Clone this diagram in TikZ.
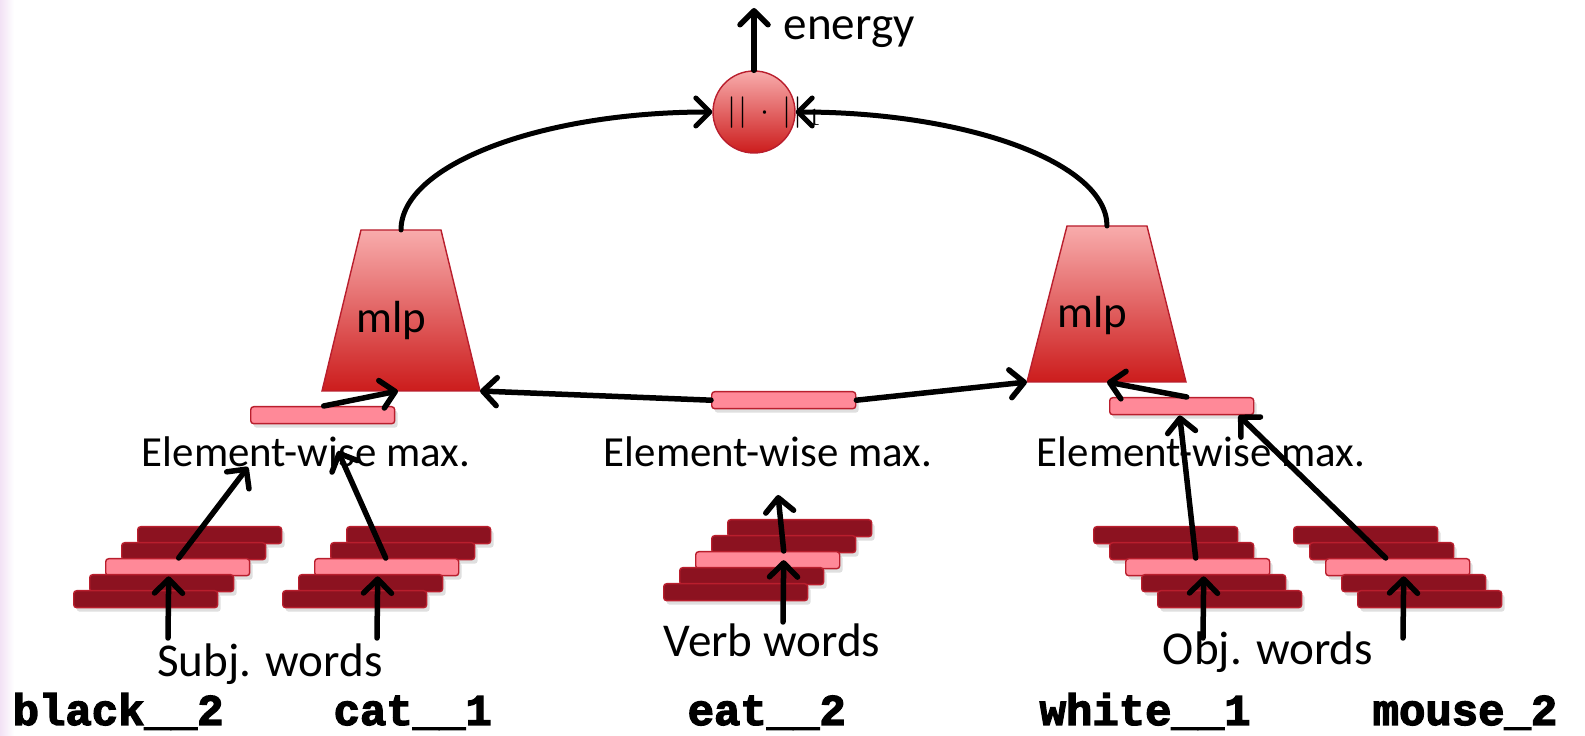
\documentclass[tikz,border=0pt]{standalone}
\usepackage{fontspec}
\setmainfont{Carlito}
\newfontfamily\codefont{Liberation Mono}[BoldFeatures={FakeBold=3}]
\usepackage{tikz}
\usetikzlibrary{arrows.meta, shadows}
\definecolor{darkbar}{RGB}{140,18,32}
\definecolor{barline}{RGB}{185,30,45}
\definecolor{pinkbar}{RGB}{255,137,152}
\definecolor{mlptop}{RGB}{248,172,172}
\definecolor{mlpbot}{RGB}{204,28,28}
\definecolor{stripc}{RGB}{242,226,245}
\tikzset{
  bar/.style={rectangle, anchor=north west, minimum width=14.4mm, minimum height=1.7mm,
    inner sep=0pt, rounded corners=0.3mm, draw=barline, line width=0.4pt,
    drop shadow={opacity=0.25, shadow xshift=0.3mm, shadow yshift=-0.4mm}},
  arr/.style={line width=0.55mm, line cap=round,
    -{Straight Barb[length=1.4mm, width=2.8mm, round]}},
  lbl/.style={font=\fontsize{13.4}{16}\selectfont, inner sep=0pt, anchor=base},
  maxlbl/.style={font=\fontsize{12.2}{15}\selectfont, inner sep=0pt, anchor=base},
  word/.style={font=\codefont\bfseries\fontsize{12.5}{15}\selectfont, inner sep=0pt, anchor=base west},
}
% one stack of five word vectors: name, x, y of top bar, shift per bar
\newcommand{\wordstack}[4]{%
  \foreach \i/\f in {0/darkbar,1/darkbar,2/pinkbar,3/darkbar,4/darkbar}
    \node[bar, fill=\f] (#1\i) at ({#2+#4*\i},{#3+16*\i}) {};
}

\begin{document}
\begin{tikzpicture}[x=0.1mm, y=-0.1mm]
  \useasboundingbox (0,0) rectangle (1585,736);
  \shade[left color=stripc, right color=white] (0,0) rectangle (14,736);

  % mlp blocks
  \shade[draw=barline, top color=mlptop, bottom color=mlpbot]
    (361,230) -- (441,230) -- (480,391) -- (322,391) -- cycle;
  \shade[draw=barline, top color=mlptop, bottom color=mlpbot]
    (1067,226) -- (1147,226) -- (1186,382) -- (1027,382) -- cycle;
  \coordinate (mlpLtop) at (401,230);
  \coordinate (mlpLin) at (398,391);
  \coordinate (mlpLcorner) at (480,391);
  \coordinate (mlpRtop) at (1107,226);
  \coordinate (mlpRin) at (1107,382);
  \coordinate (mlpRcorner) at (1027,382);
  \node[font=\fontsize{12.8}{15}\selectfont, inner sep=0pt, anchor=base west] (mlpL) at (356,333) {mlp};
  \node[font=\fontsize{12.8}{15}\selectfont, inner sep=0pt, anchor=base west] (mlpR) at (1057,328) {mlp};

  % norm
  \node[circle, minimum size=8.2mm, inner sep=0pt, draw=barline,
    top color=mlptop, bottom color=mlpbot] (ball) at (754,112) {};
  \node[font=\fontsize{9.5}{10}\selectfont, inner sep=0pt, anchor=west] (norm) at (727,113)
    {$|\kern0.6pt|\,\cdot\,|\kern0.6pt|_{\,1}$};
  \coordinate (top) at (754,8);
  \node[lbl, anchor=base west] (energy) at (783,40) {energy};

  % word vectors
  \wordstack{black}{137}{526}{-16}
  \wordstack{cat}{346}{526}{-16}
  \wordstack{eat}{727}{519}{-16}
  \wordstack{white}{1093}{526}{16}
  \wordstack{mouse}{1293}{526}{16}

  % pooled vectors
  \node[bar, fill=pinkbar] (maxL) at (250,406) {};
  \node[bar, fill=pinkbar] (maxM) at (711,391) {};
  \node[bar, fill=pinkbar] (maxR) at (1109,397) {};

  % labels
  \node[maxlbl] (elemL) at (306,467) {Element-wise max.};
  \node[maxlbl] (elemM) at (768,467) {Element-wise max.};
  \node[maxlbl] (elemR) at (1201,467) {Element-wise max.};
  \node[lbl] (subj) at (270,677) {Subj. words};
  \node[lbl] (verb) at (772,657) {Verb words};
  \node[lbl] (obj) at (1268,665) {Obj. words};
  \node[word] (w1) at (12,725) {black\_\_2};
  \node[word] (w2) at (333,725) {cat\_\_1};
  \node[word] (w3) at (687,725) {eat\_\_2};
  \node[word] (w4) at (1039,725) {white\_\_1};
  \node[word] (w5) at (1372,725) {mouse\_2};

  % inputs
  \coordinate (inBlack) at (168,638);
  \coordinate (inCat) at (377,638);
  \coordinate (inEat) at (783,622);
  \coordinate (inWhite) at (1203,638);
  \coordinate (inMouse) at (1403,638);
  \coordinate (upBlack) at (248,467);
  \coordinate (upCat) at (338,451);
  \coordinate (upEat) at (778,495);

  \draw[arr] (inBlack) -- ([xshift=-0.9mm]black2.south);
  \draw[arr] (inCat) -- ([xshift=-0.9mm]cat2.south);
  \draw[arr] (inEat) -- ([xshift=1.6mm]eat2.center);
  \draw[arr] (inWhite) -- ([xshift=0.6mm]white2.south);
  \draw[arr] (inMouse) -- ([xshift=0.6mm]mouse2.south);

  \draw[arr] ([xshift=0.1mm]black2.north) -- (upBlack);
  \draw[arr] ([xshift=-0.1mm]cat2.north) -- (upCat);
  \draw[arr] ([xshift=1.6mm]eat2.north) -- (upEat);
  \draw[arr] ([xshift=-0.2mm]white2.north) -- ([xshift=-0.2mm]maxR.south);
  \draw[arr] ([xshift=-1.2mm]mouse2.north) -- ([xshift=5.7mm]maxR.south);

  \draw[arr] ([xshift=0.1mm]maxL.north) -- (mlpLin);
  \draw[arr] ([xshift=0.5mm]maxR.north) -- (mlpRin);
  \draw[arr] (maxM.west) -- (mlpLcorner);
  \draw[arr] (maxM.east) -- (mlpRcorner);

  \draw[arr, line width=0.5mm] (mlpLtop) .. controls +(0,-65) and +(-172,0) .. (ball.west);
  \draw[arr, line width=0.5mm] (mlpRtop) .. controls +(0,-63) and +(172,0) .. (ball.east);
  \draw[arr] (ball.north) -- (top);
\end{tikzpicture}
\end{document}
